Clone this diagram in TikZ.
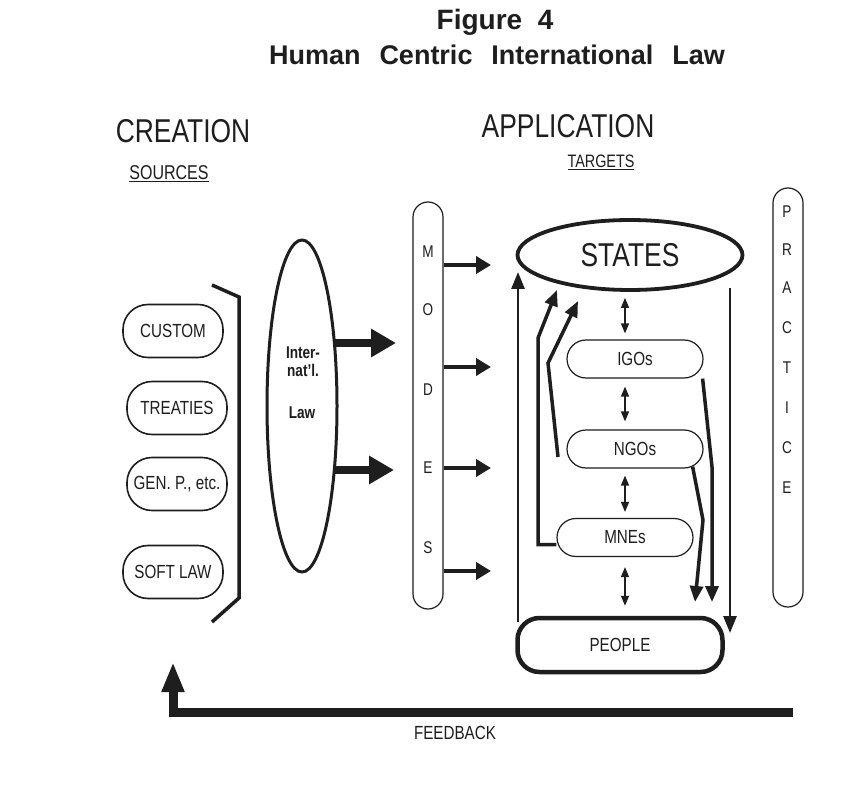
\documentclass[tikz,border=0pt]{standalone}
\usepackage{fontspec}
\setmainfont{Liberation Sans}[FakeStretch=0.8]
\newfontfamily\titlefont{Liberation Sans}
\usetikzlibrary{arrows.meta,shapes.geometric}
\definecolor{ink}{HTML}{1E1E1E}
\tikzset{
  fs/.style={font=\fontsize{#1}{#1}\selectfont},
  srcbox/.style={draw=ink, line width=1.6pt, rounded corners=25pt, minimum width=100pt, minimum height=53pt, inner sep=0pt, fs=19, text=ink},
  tgtbox/.style={draw=ink, line width=1.2pt, rounded corners=19pt, minimum width=136pt, minimum height=38pt, inner sep=0pt, fs=19, text=ink},
  bar/.style={draw=ink, line width=1.2pt, rounded corners=15pt, minimum width=30pt, inner sep=0pt},
  letter/.style={fs=17, text=ink, inner sep=0pt},
  bigarrow/.style={draw=ink, line width=7.5pt, -{Triangle[length=25pt,width=27pt]}},
  modearrow/.style={draw=ink, line width=4pt, -{Triangle[length=15pt,width=17pt]}},
  dblarrow/.style={draw=ink, line width=1.4pt, {Triangle[length=10pt,width=8pt]}-{Triangle[length=10pt,width=8pt]}},
  bentarrow/.style={draw=ink, line width=3.5pt, line join=miter, -{Triangle[length=16pt,width=13pt]}},
  longarrow/.style={draw=ink, line width=2.8pt, -{Triangle[length=17pt,width=13pt]}},
}
\begin{document}
\begin{tikzpicture}[x=1pt,y=-1pt]
\useasboundingbox[fill=white] (0,0) rectangle (843,794);

% titles
\node[font=\titlefont\bfseries\fontsize{28}{30}\selectfont, text=ink] (fig) at (495,22) {Figure\ \ 4};
\node[font=\titlefont\bfseries\fontsize{27}{30}\selectfont, text=ink] (title) at (497,55) {Human\hspace{0.7em}Centric\hspace{0.7em}International\hspace{0.7em}Law};
\node[fs=33, text=ink] (creation) at (183,131) {CREATION};
\node[fs=33, text=ink] (application) at (568,126) {APPLICATION};
\node[fs=20, text=ink] (sources) at (169,174) {\underline{SOURCES}};
\node[fs=18, text=ink] (targets) at (601,162) {\underline{TARGETS}};

% sources
\node[srcbox] (custom) at (173,331) {CUSTOM};
\node[srcbox] (treaties) at (177,408) {TREATIES};
\node[srcbox] (genp) at (177,484) {GEN. P., etc.};
\node[srcbox] (soft) at (173,572) {SOFT LAW};

% bracket
\coordinate (b1) at (212,285);
\coordinate (b2) at (239,297);
\coordinate (b3) at (239,598);
\coordinate (b4) at (212,622);
\draw[ink, line width=3.5pt, line join=miter] (b1) -- (b2) -- (b3) -- (b4);

% international law ellipse
\node[draw=ink, line width=3pt, ellipse, minimum width=70pt, minimum height=332pt, inner sep=0pt] (law) at (302,406) {};
\node[font=\bfseries\fontsize{17}{18}\selectfont, text=ink, align=center, inner sep=0pt] (lawtxt) at (303,362) {Inter-\\nat'l.};
\node[font=\bfseries\fontsize{17}{18}\selectfont, text=ink, inner sep=0pt] (lawtxt2) at (302,413) {Law};

\coordinate (la1) at (334,343);
\coordinate (la2) at (396,343);
\coordinate (lb1) at (334,470);
\coordinate (lb2) at (394,470);
\draw[bigarrow] (la1) -- (la2);
\draw[bigarrow] (lb1) -- (lb2);

% modes bar
\node[bar, minimum height=407pt] (modes) at (428,405.5) {};
\node[letter] (mM) at (428,252) {M};
\node[letter] (mO) at (428,310) {O};
\node[letter] (mD) at (428,390) {D};
\node[letter] (mE) at (428,468) {E};
\node[letter] (mS) at (428,548) {S};
\coordinate (t1) at (491,265);
\coordinate (t2) at (491,367);
\coordinate (t3) at (491,468);
\coordinate (t4) at (491,571);
\draw[modearrow] (modes.east |- t1) -- (t1);
\draw[modearrow] (modes.east |- t2) -- (t2);
\draw[modearrow] (modes.east |- t3) -- (t3);
\draw[modearrow] (modes.east |- t4) -- (t4);

% targets
\node[draw=ink, line width=3.8pt, ellipse, minimum width=225pt, minimum height=70pt, inner sep=0pt, fs=33, text=ink] (states) at (630,255) {STATES};
\node[tgtbox] (igos) at (635,359) {IGOs};
\node[tgtbox] (ngos) at (635,449) {NGOs};
\node[tgtbox] (mnes) at (625,537.5) {MNEs};
\node[draw=ink, line width=4.5pt, rounded corners=22pt, minimum width=205pt, minimum height=54pt, inner sep=0pt, fs=19, text=ink] (people) at (620,645) {PEOPLE};

% small double arrows
\coordinate (dx) at (625,0);
\draw[dblarrow] ([yshift=-6pt]states.south -| dx) -- ([yshift=6pt]igos.north -| dx);
\draw[dblarrow] ([yshift=-8pt]igos.south -| dx) -- ([yshift=8pt]ngos.north -| dx);
\draw[dblarrow] ([yshift=-7pt]ngos.south -| dx) -- ([yshift=6pt]mnes.north -| dx);
\draw[dblarrow] ([yshift=-10pt]mnes.south -| dx) -- ([yshift=10pt]people.north -| dx);

% long left arrow up to states
\coordinate (u0) at (518,622);
\coordinate (u1) at (518,272);
\draw[longarrow] (u0) -- (u1);

% bent arrows up
\coordinate (k1) at (538,338);
\coordinate (k2) at (557,290);
\draw[bentarrow] ([yshift=-7pt]mnes.west) -| (k1) -- (k2);
\coordinate (n0) at (558,457);
\coordinate (n1) at (548,363);
\coordinate (n2) at (578,301);
\draw[bentarrow] (n0) -- (n1) -- (n2);

% bent arrows down
\coordinate (d1) at (712,467);
\coordinate (d2) at (712,602);
\draw[bentarrow] ([xshift=-1pt]igos.south east) -- (d1) -- (d2);
\coordinate (e1) at (703,520);
\coordinate (e2) at (695,602);
\draw[bentarrow] ([xshift=-11pt,yshift=2pt]ngos.south east) -- (e1) -- (e2);

% long right arrow down
\coordinate (r0) at (730,288);
\coordinate (r1) at (730,633);
\draw[longarrow] (r0) -- (r1);

% practice bar
\node[bar, minimum height=419pt] (practice) at (788,397.5) {};
\node[letter] (pP) at (787,212) {P};
\node[letter] (pR) at (787,250) {R};
\node[letter] (pA) at (787,288) {A};
\node[letter] (pC) at (787,328) {C};
\node[letter] (pT) at (787,368) {T};
\node[letter] (pI) at (787,408) {I};
\node[letter] (pC2) at (787,448) {C};
\node[letter] (pE) at (787,488) {E};

% feedback
\coordinate (f0) at (793,712);
\coordinate (f1) at (173,712);
\coordinate (f2) at (173,662);
\draw[ink, line width=9pt, line join=miter, -{Triangle[length=30pt,width=21pt]}] (f0) -- (f1) -- (f2);
\node[fs=19, text=ink] (feedback) at (455,733) {FEEDBACK};
\end{tikzpicture}
\end{document}
